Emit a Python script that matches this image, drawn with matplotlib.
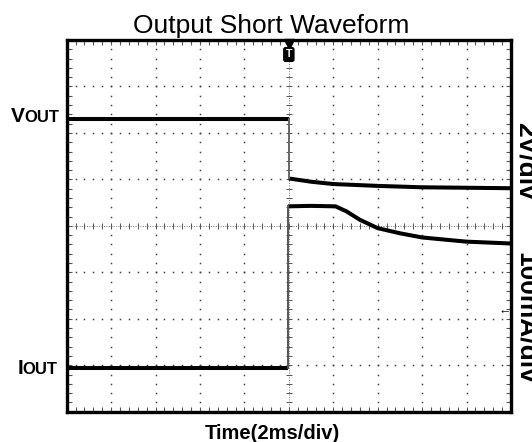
import numpy as np
import matplotlib.pyplot as plt

plt.rcParams['font.family'] = ['Liberation Sans', 'DejaVu Sans']

# scope traces, in screen divisions (x: 0..10 div, y: 0..8 div)
vout_pre_t = [0.0, 5.0]
vout_pre = [6.29, 6.29]
vout_post_t = [5.0, 5.5, 6.0, 7.0, 8.0, 9.0, 10.0]
vout_post = [5.02, 4.95, 4.90, 4.86, 4.83, 4.82, 4.81]

iout_pre_t = [0.0, 4.98]
iout_pre = [0.94, 0.94]
iout_post_t = [4.98, 5.5, 6.05, 6.3, 6.6, 7.0, 7.5, 8.0, 8.55, 9.0, 10.0]
iout_post = [4.42, 4.43, 4.42, 4.31, 4.13, 3.95, 3.84, 3.75, 3.70, 3.66, 3.62]

n_xdiv, n_ydiv = 10, 8
trig_t = 5.0
ch2_gnd = 2.15

W, H = 532, 442


def fx(x):
    return x / W


def fy(y):
    return 1 - y / H


fig = plt.figure(figsize=(W / 100, H / 100), dpi=100)
ax = fig.add_axes([fx(66.7), 30.3 / H, 444.3 / W, 371.7 / H])
ax.set_xlim(0, n_xdiv)
ax.set_ylim(0, n_ydiv)

## graticule
sub_x = np.arange(0, n_xdiv + 0.01, 0.2)
sub_y = np.arange(0, n_ydiv + 0.01, 0.2)
for gx in range(1, n_xdiv):
    if gx == n_xdiv // 2:
        continue
    ax.plot(np.full_like(sub_y, gx), sub_y, ls='', marker='s', ms=1.1, mew=0, color='#444')
for gy in range(1, n_ydiv):
    if gy == n_ydiv // 2:
        continue
    ax.plot(sub_x, np.full_like(sub_x, gy), ls='', marker='s', ms=1.1, mew=0, color='#444')

# centre cross with sub-division ticks
ax.axvline(n_xdiv / 2, color='#777', lw=0.7, ls=(0, (1, 1.5)))
ax.axhline(n_ydiv / 2, color='#777', lw=0.7, ls=(0, (1, 1.5)))
ax.plot(sub_x, np.full_like(sub_x, n_ydiv / 2), ls='', marker='|', ms=5, mew=0.7, color='#555')
ax.plot(np.full_like(sub_y, n_xdiv / 2), sub_y, ls='', marker='_', ms=5, mew=0.7, color='#555')

ax.set_xticks(sub_x)
ax.set_yticks(sub_y)
ax.tick_params(direction='in', length=3.5, width=0.8, color='#555',
               top=True, right=True, labelbottom=False, labelleft=False)
for s in ax.spines.values():
    s.set_linewidth(2.4)

## traces
ax.plot(vout_pre_t, vout_pre, color='k', lw=2.9, solid_capstyle='butt')
ax.plot(vout_post_t, vout_post, color='k', lw=2.9, solid_capstyle='butt')
ax.plot([vout_pre_t[-1], vout_post_t[0]], [vout_pre[-1], vout_post[0]], color='#666', lw=1.4)

ax.plot(iout_pre_t, iout_pre, color='k', lw=2.9, solid_capstyle='butt')
ax.plot(iout_post_t, iout_post, color='k', lw=2.9, solid_capstyle='butt')
ax.plot([iout_pre_t[-1], iout_post_t[0]], [iout_pre[-1], iout_post[0]], color='#555', lw=1.4)

## trigger marker and ch2 ground marker
ax.plot(trig_t, n_ydiv - 4.5 / 46.5, marker='v', ms=7, color='k', clip_on=False)
ax.text(trig_t, n_ydiv - 14.5 / 46.5, 'T', color='white', fontsize=7.5, weight='bold',
        ha='center', va='center',
        bbox=dict(boxstyle='round,pad=0.18', fc='k', ec='k'))
ax.text(9.87, ch2_gnd, '\u2190', fontsize=9, ha='center', va='center')

## labels
fig.text(fx(271), fy(33), 'Output Short Waveform', ha='center', va='baseline', fontsize=19)
fig.text(fx(272), fy(439), 'Time(2ms/div)', ha='center', va='baseline', fontsize=14.5, weight='bold')

fig.text(fx(25), fy(122), 'V', ha='right', va='baseline', fontsize=15, weight='bold')
fig.text(fx(24.5), fy(122), 'OUT', ha='left', va='baseline', fontsize=12, weight='bold')
fig.text(fx(23), fy(374), 'I', ha='right', va='baseline', fontsize=15, weight='bold')
fig.text(fx(22.5), fy(374), 'OUT', ha='left', va='baseline', fontsize=12, weight='bold')

fig.text(fx(514), fy(161), '2V/div', rotation=-90, ha='left', va='center', fontsize=19, weight='bold')
fig.text(fx(514), fy(318), '100mA/div', rotation=-90, ha='left', va='center', fontsize=19, weight='bold')

fig.savefig('out.png', dpi=100)
